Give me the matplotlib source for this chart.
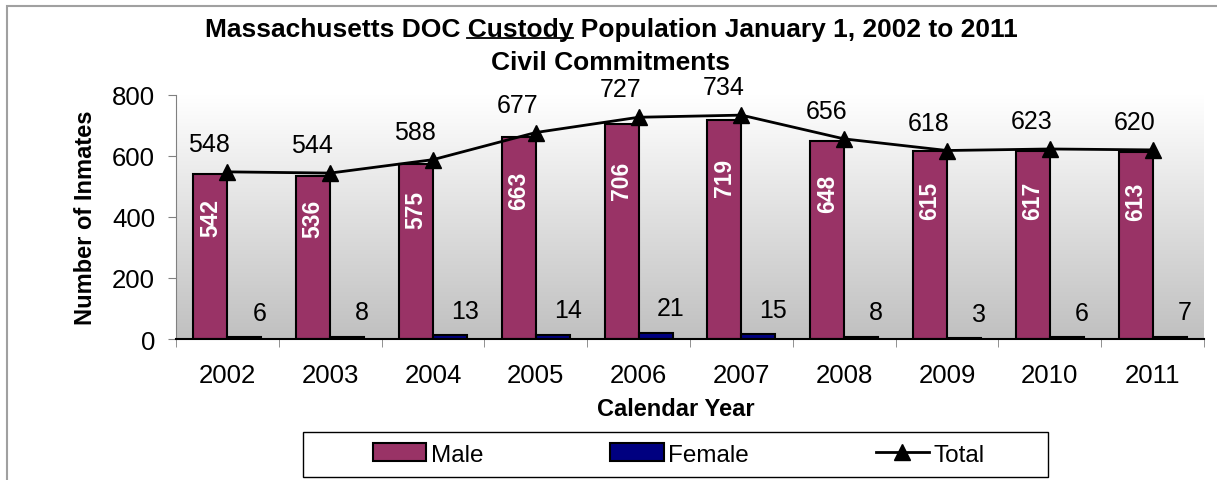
import numpy as np
import matplotlib
matplotlib.use("Agg")
import matplotlib.pyplot as plt
from matplotlib.colors import LinearSegmentedColormap
from matplotlib.patches import Rectangle, Patch
from matplotlib.lines import Line2D

years = ["2002", "2003", "2004", "2005", "2006", "2007", "2008", "2009", "2010", "2011"]
male = [542, 536, 575, 663, 706, 719, 648, 615, 617, 613]
female = [6, 8, 13, 14, 21, 15, 8, 3, 6, 7]
total = [548, 544, 588, 677, 727, 734, 656, 618, 623, 620]

plt.rcParams['font.family'] = ['Liberation Sans', 'DejaVu Sans']

W, H = 1217, 481
fig = plt.figure(figsize=(W / 100, H / 100), dpi=100)
ax = fig.add_axes([176 / W, 1 - 340 / H, (1204 - 176) / W, (340 - 96) / H])

x = np.arange(len(years))
bw = 0.33

# gradient plot background
bg = LinearSegmentedColormap.from_list('bg', ['#c0c0c0', '#ffffff'])
grad = np.linspace(1, 0, 256).reshape(-1, 1)
ax.imshow(grad, cmap=bg, extent=[-0.5, len(years) - 0.5, 0, 800],
          aspect='auto', origin='upper', zorder=0)

ax.bar(x - bw / 2, male, bw, color='#993366', edgecolor='black', lw=1.5, zorder=2)
ax.bar(x + bw / 2, female, bw, color='#000080', edgecolor='black', lw=1.5, zorder=2)
ax.plot(x, total, color='black', lw=2, marker='^', ms=11, zorder=3)

for i in range(len(years)):
    ax.text(x[i] - bw / 2, male[i] * 0.74, str(male[i]), rotation=90, color='white',
            fontsize=16.5, fontweight='bold', ha='center', va='center', zorder=4)
    ax.text(x[i] + 0.31, female[i] + 80, str(female[i]), fontsize=18,
            ha='center', va='center', zorder=4)
    ax.annotate(str(total[i]), (x[i], total[i]), xytext=(-13, 20),
                textcoords='offset points', fontsize=18, ha='center', va='center', zorder=4)

ax.set_xlim(-0.5, len(years) - 0.5)
ax.set_ylim(0, 800)
ax.set_yticks([0, 200, 400, 600, 800])
ax.set_xticks(x)
ax.set_xticklabels(years)
ax.set_xticks(np.arange(-0.5, len(years)), minor=True)
ax.tick_params(axis='x', which='major', length=0, pad=17, labelsize=18.5)
ax.tick_params(axis='x', which='minor', length=6, color='#808080', direction='out')
ax.tick_params(axis='y', length=6, color='#808080', direction='out', pad=9, labelsize=18.5)
for s in ['top', 'right']:
    ax.spines[s].set_visible(False)
ax.spines['left'].set_color('#808080')
ax.spines['bottom'].set_color('black')
ax.spines['bottom'].set_linewidth(1.5)

fig.text(85 / W, 1 - 218 / H, 'Number of Inmates', rotation=90, fontsize=17,
         fontweight='bold', ha='center', va='center')
fig.text(676 / W, 1 - 410 / H, 'Calendar Year', fontsize=17,
         fontweight='bold', ha='center', va='center')

# title with underlined "Custody"
line1 = 'Massachusetts DOC Custody Population January 1, 2002 to 2011'
t1 = fig.text(0.502, 1 - 30 / H, line1, fontsize=19, fontweight='bold', ha='center', va='center')
fig.text(0.502, 1 - 63 / H, 'Civil Commitments', fontsize=19, fontweight='bold',
         ha='center', va='center')
fig.canvas.draw()
r = fig.canvas.get_renderer()
bb = t1.get_window_extent(r)
tmp = fig.text(0, 0, 'Massachusetts DOC Custody', fontsize=19, fontweight='bold')
w2 = tmp.get_window_extent(r).width
tmp.set_text('Custody')
wc = tmp.get_window_extent(r).width
tmp.remove()
uy = bb.y0 + 3
fig.add_artist(Line2D([(bb.x0 + w2 - wc) / W, (bb.x0 + w2) / W], [uy / H, uy / H],
                      color='black', lw=1.3, transform=fig.transFigure))

# outer border (left and top only visible)
fig.add_artist(Rectangle((7 / W, -0.1), 1.2, 1 - 7 / H + 0.1, fill=False,
                         edgecolor='#a0a0a0', lw=1.5, transform=fig.transFigure))

# legend
fig.add_artist(Rectangle((303 / W, 1 - 478 / H), 745 / W, 45 / H, facecolor='white',
                         edgecolor='black', lw=1, transform=fig.transFigure))
handles = [Patch(facecolor='#993366', edgecolor='black', lw=1.5),
           Patch(facecolor='#000080', edgecolor='black', lw=1.5),
           Line2D([], [], color='black', lw=2, marker='^', ms=11)]
fig.legend(handles, ['Male', 'Female', 'Total'], loc='center',
           bbox_to_anchor=(679 / W, 1 - 455.5 / H), ncol=3, frameon=False,
           columnspacing=5.2, handlelength=2.2, handletextpad=0.2, fontsize=17.5)

fig.savefig('out.png', dpi=100)
